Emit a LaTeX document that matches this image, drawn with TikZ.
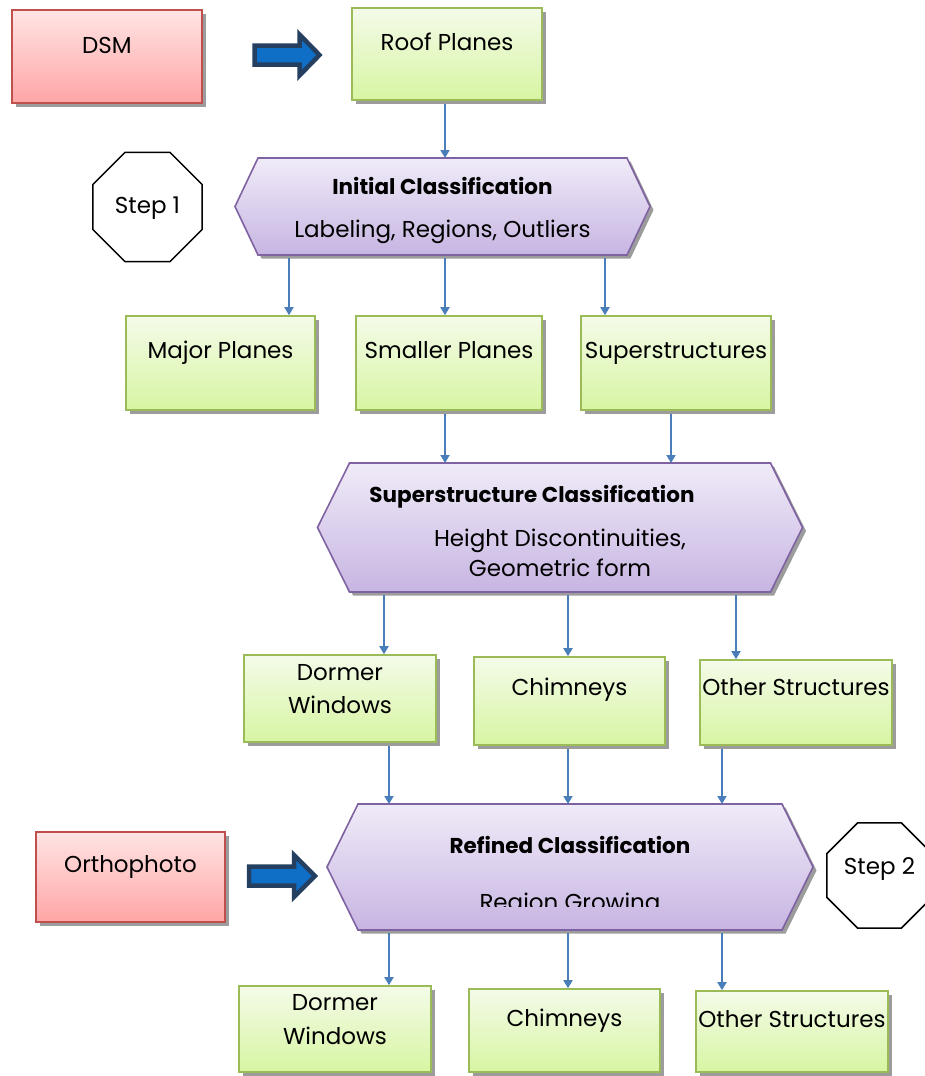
\documentclass[tikz,border=0pt]{standalone}
\usepackage{fontspec}
\setmainfont{Poppins}
\usetikzlibrary{shapes.geometric,shadows,arrows.meta,calc}

\definecolor{grTop}{HTML}{F4FBE9}
\definecolor{grBot}{HTML}{D7F5A2}
\definecolor{grLine}{HTML}{9BBB59}
\definecolor{rdTop}{HTML}{FFE4E4}
\definecolor{rdBot}{HTML}{FFA5A5}
\definecolor{rdLine}{HTML}{C0504D}
\definecolor{pcTop}{HTML}{F0EBF8}
\definecolor{pcBot}{HTML}{C7B5E2}
\definecolor{pcLine}{HTML}{7F62A1}
\definecolor{linkBlue}{HTML}{4A7EBB}
\definecolor{arrNavy}{HTML}{243F60}
\definecolor{arrFill}{HTML}{0F6FC6}
\definecolor{shadeGray}{HTML}{9C9C9C}

\tikzset{
  softshadow/.style={drop shadow={shadow xshift=3.5pt, shadow yshift=-3.5pt, fill=shadeGray, opacity=1}},
  greenbox/.style={rectangle, draw=grLine, line width=1.6pt, top color=grTop, bottom color=grBot, softshadow, inner sep=0pt},
  redbox/.style={rectangle, draw=rdLine, line width=1.6pt, top color=rdTop, bottom color=rdBot, softshadow, inner sep=0pt},
  frame/.style={rectangle, inner sep=0pt, outer sep=0pt},
  hexfill/.style={draw=pcLine, line width=1.6pt, top color=pcTop, bottom color=pcBot, softshadow, line join=miter},
  arrowfill/.style={draw=arrNavy, fill=arrFill, line width=4.5pt, line join=miter},
  lbl/.style={font=\fontsize{23}{33.5}\selectfont, align=center, inner sep=0pt, text height=20pt, text depth=4pt},
  lbltwo/.style={font=\fontsize{23}{33.5}\selectfont, align=center, inner sep=0pt},
  boldlbl/.style={lbl, font=\fontsize{21.5}{26}\selectfont\bfseries},
  stepsign/.style={regular polygon, regular polygon sides=8, draw=black, line width=1.5pt, fill=white, inner sep=0pt},
  link/.style={draw=linkBlue, line width=1.8pt, shorten <=3pt, -{Triangle[length=8pt,width=9pt]}},
}

% hexagon: name, centre x, centre y, width, height, corner inset
\newcommand\hexnode[6]{%
  \node[frame, minimum width=#4pt, minimum height=#5pt] (#1) at (#2,#3) {};
  \path[hexfill] (#1.west) -- ([xshift=#6pt]#1.north west) -- ([xshift=-#6pt]#1.north east)
    -- (#1.east) -- ([xshift=-#6pt]#1.south east) -- ([xshift=#6pt]#1.south west) -- cycle;
}
% block arrow: name, centre x, centre y, length, head width, half shaft, head length
\newcommand\blockarrow[7]{%
  \node[frame, minimum width=#4pt, minimum height=#5pt] (#1) at (#2,#3) {};
  \path[arrowfill] ([yshift=#6pt]#1.west) -- ([xshift=-#7pt, yshift=#6pt]#1.east)
    -- ([xshift=-#7pt]#1.north east) -- (#1.east) -- ([xshift=-#7pt]#1.south east)
    -- ([xshift=-#7pt, yshift=-#6pt]#1.east) -- ([yshift=-#6pt]#1.west) -- cycle;
}

\begin{document}
\begin{tikzpicture}[x=1pt, y=-1pt]
\useasboundingbox (0,0) rectangle (925,1076);
\clip (0,0) rectangle (925,1076);

% inputs and the first result
\node[redbox, minimum width=190pt, minimum height=93pt] (dsm) at (107,56.5) {};
\node[lbl] (dsmt) at (dsm.center |- 0,45) {DSM};
\blockarrow{arr1}{287}{55}{65}{41}{9.5}{20}
\node[greenbox, minimum width=190pt, minimum height=92pt] (rp) at (447,54) {};
\node[lbl] (rpt) at (rp.center |- 0,42) {Roof Planes};

% step 1
\node[stepsign, minimum size=118pt] (st1) at (147.5,207) {};
\node[lbl] (st1t) at (st1.center |- 0,205) {Step 1};
\hexnode{ic}{442.5}{206.5}{415}{97}{23}
\node[boldlbl] (ict) at (ic.center |- 0,186) {Initial Classification};
\node[lbl] (icl) at (ic.center |- 0,229) {Labeling, Regions, Outliers};

\node[greenbox, minimum width=189pt, minimum height=94pt] (mp) at (220.5,363) {};
\node[lbl] (mpt) at (mp.center |- 0,350) {Major Planes};
\node[greenbox, minimum width=186pt, minimum height=94pt] (sp) at (449,363) {};
\node[lbl] (spt) at (sp.center |- 0,350) {Smaller Planes};
\node[greenbox, minimum width=190pt, minimum height=94pt] (ss) at (676,363) {};
\node[lbl] (sst) at (ss.center |- 0,350) {Superstructures};

% superstructure classification
\hexnode{sc}{560}{527.5}{485}{129}{32}
\node[boldlbl] (sct) at (532,494) {Superstructure Classification};
\node[lbltwo, font=\fontsize{23}{30}\selectfont] (scl) at (560,553) {Height Discontinuities,\\Geometric form};

\node[greenbox, minimum width=192pt, minimum height=87pt] (dw) at (340,698.5) {};
\node[lbltwo] (dwt) at (dw.center |- 0,689) {Dormer\\Windows};
\node[greenbox, minimum width=191pt, minimum height=88pt] (ch) at (569.5,701) {};
\node[lbl] (cht) at (ch.center |- 0,687) {Chimneys};
\node[greenbox, minimum width=192pt, minimum height=85pt] (os) at (796,702.5) {};
\node[lbl] (ost) at (os.center |- 0,687) {Other Structures};

% step 2
\node[redbox, minimum width=189pt, minimum height=90pt] (op) at (130.5,877) {};
\node[lbl] (opt) at (op.center |- 0,864) {Orthophoto};
\blockarrow{arr2}{282}{876}{66}{42}{9.5}{21}
\hexnode{rc}{570}{867}{486}{126}{31}
\node[boldlbl] (rct) at (rc.center |- 0,845) {Refined Classification};
\begin{scope}
  \clip (rc.west |- 0,800) rectangle (rc.east |- 0,906);
  \node[lbl, anchor=base] (rcl) at (rc.center |- 0,910) {Region Growing};
\end{scope}
\node[stepsign, minimum size=114pt] (st2) at (879.5,875.5) {};
\node[lbl] (st2t) at (st2.center |- 0,866) {Step 2};

\node[greenbox, minimum width=192pt, minimum height=86pt] (dw2) at (335,1029) {};
\node[lbltwo] (dw2t) at (dw2.center |- 0,1019.5) {Dormer\\Windows};
\node[greenbox, minimum width=191pt, minimum height=83pt] (ch2) at (564.5,1030.5) {};
\node[lbl] (ch2t) at (ch2.center |- 0,1018) {Chimneys};
\node[greenbox, minimum width=192pt, minimum height=81pt] (os2) at (792,1031.5) {};
\node[lbl] (os2t) at (os2.center |- 0,1019) {Other Structures};

% connectors
\draw[link] (445,0 |- rp.south) -- (445,0 |- ic.north);
\draw[link] (289,0 |- ic.south) -- (289,0 |- mp.north);
\draw[link] (445,0 |- ic.south) -- (445,0 |- sp.north);
\draw[link] (605,0 |- ic.south) -- (605,0 |- ss.north);
\draw[link] (445,0 |- sp.south) -- (445,0 |- sc.north);
\draw[link] (671,0 |- ss.south) -- (671,0 |- sc.north);
\draw[link] (384,0 |- sc.south) -- (384,0 |- dw.north);
\draw[link] (568,0 |- sc.south) -- (568,0 |- ch.north);
\draw[link] (736,0 |- sc.south) -- (736,0 |- os.north);
\draw[link] (389,0 |- dw.south) -- (389,0 |- rc.north);
\draw[link] (568,0 |- ch.south) -- (568,0 |- rc.north);
\draw[link] (722,0 |- os.south) -- (722,0 |- rc.north);
\draw[link] (389,0 |- rc.south) -- (389,0 |- dw2.north);
\draw[link] (568,0 |- rc.south) -- (568,0 |- ch2.north);
\draw[link] (722,0 |- rc.south) -- (722,0 |- os2.north);
\end{tikzpicture}
\end{document}
